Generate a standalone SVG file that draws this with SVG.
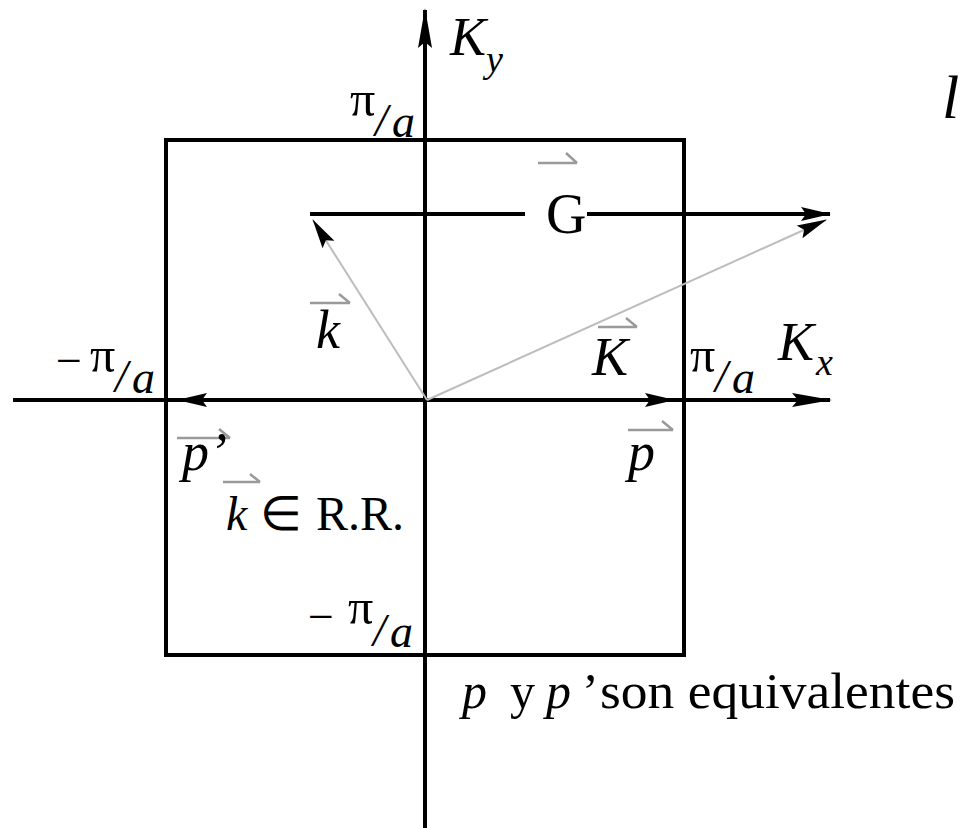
<svg xmlns="http://www.w3.org/2000/svg" width="962" height="828" viewBox="0 0 962 828">
<style>
  .ax { stroke:#000; stroke-width:4; fill:none; }
  .vec { stroke:#000; stroke-width:4; fill:none; }
  .gvec { stroke:#bdbdbd; stroke-width:2; fill:none; }
  .ov { stroke:#9a9a9a; stroke-width:2.5; fill:none; }
  text { font-family:"Liberation Serif","Times New Roman",serif; fill:#000; }
  .it { font-style:italic; }
  .big { font-size:54px; }
  .frac { font-size:46px; font-style:italic; }
  .pi { font-size:50px; font-style:normal; }
</style>
<defs>
  <marker id="axhead" markerUnits="userSpaceOnUse" viewBox="0 0 40 16" refX="38" refY="8" markerWidth="40" markerHeight="16" orient="auto">
    <path d="M0,1 L40,8 L0,15 L6,8 z" fill="#000"/>
  </marker>
  <marker id="head" markerUnits="userSpaceOnUse" viewBox="0 0 30 16" refX="29" refY="8" markerWidth="30" markerHeight="16" orient="auto">
    <path d="M0,1 L30,8 L0,15 L5,8 z" fill="#000"/>
  </marker>
</defs>
<rect width="962" height="828" fill="#fff"/>

<g id="axes">
  <line id="axis-x" class="ax" x1="13" y1="400" x2="830" y2="400" marker-end="url(#axhead)"/>
  <line id="axis-y" class="ax" x1="425" y1="828" x2="425" y2="10" marker-end="url(#axhead)"/>
</g>

<g id="zone">
  <rect x="166" y="140" width="518" height="515" class="ax"/>
</g>

<g id="connectors">
  <line id="vec-p" class="vec" x1="425" y1="400" x2="674" y2="400" marker-end="url(#head)"/>
  <line id="vec-pp" class="vec" x1="425" y1="400" x2="178" y2="400" marker-end="url(#head)"/>
  <line id="vec-k" class="gvec" x1="427" y1="400" x2="313" y2="220" marker-end="url(#head)"/>
  <line id="vec-K" class="gvec" x1="427" y1="400" x2="826" y2="220" marker-end="url(#head)"/>
  <line id="vec-G-a" class="vec" x1="310" y1="214" x2="525" y2="214"/>
  <line id="vec-G-b" class="vec" x1="587" y1="214" x2="830" y2="214" marker-end="url(#head)"/>
</g>

<g id="label-Ky">
  <text x="450" y="55" class="it big">K</text>
  <text x="486" y="72" class="it" font-size="38">y</text>
</g>
<g id="label-Kx">
  <text x="778" y="360" class="it big">K</text>
  <text x="816" y="375" class="it" font-size="38">x</text>
</g>
<g id="label-pi-top">
  <text class="frac"><tspan x="350" y="116" class="pi">π</tspan><tspan x="375" y="136">/</tspan><tspan x="392" y="137">a</tspan></text>
</g>
<g id="label-pi-right">
  <text class="frac"><tspan x="690" y="372" class="pi">π</tspan><tspan x="715" y="392">/</tspan><tspan x="732" y="393">a</tspan></text>
</g>
<g id="label-pi-left">
  <text class="frac"><tspan x="56" y="376" font-style="normal">−</tspan><tspan x="90" y="372" class="pi">π</tspan><tspan x="115" y="392">/</tspan><tspan x="132" y="393">a</tspan></text>
</g>
<g id="label-pi-bottom">
  <text class="frac"><tspan x="308" y="632" font-style="normal">−</tspan><tspan x="348" y="624" class="pi">π</tspan><tspan x="373" y="646">/</tspan><tspan x="390" y="647">a</tspan></text>
</g>
<g id="label-G">
  <path class="ov" d="M538,163 H577 M566,153 L577,163"/>
  <text x="546" y="233" font-size="56">G</text>
</g>
<g id="label-K">
  <path class="ov" d="M598,327 H637 M626,318 L637,327"/>
  <text x="592" y="375" class="it big">K</text>
</g>
<g id="label-k">
  <path class="ov" d="M310,303 H350 M339,294 L350,303"/>
  <text x="316" y="348" class="it big">k</text>
</g>
<g id="label-p">
  <path class="ov" d="M628,430 H673 M662,421 L673,430"/>
  <text x="628" y="470" class="it big">p</text>
</g>
<g id="label-pp">
  <path class="ov" d="M177,438 H230 M219,429 L230,438"/>
  <text x="182" y="470" class="it big">p’</text>
</g>
<g id="label-krr">
  <path class="ov" d="M223,482 H260 M250,474 L260,482"/>
  <text y="530" font-size="48"><tspan x="226" class="it">k</tspan><tspan x="260">∈</tspan><tspan x="316">R.R.</tspan></text>
</g>
<g id="label-equiv">
  <text y="708" font-size="50"><tspan x="462" class="it">p</tspan><tspan x="510">y</tspan><tspan x="546" class="it">p</tspan><tspan x="582">’</tspan><tspan x="600" textLength="355" lengthAdjust="spacingAndGlyphs">son equivalentes</tspan></text>
</g>
<g id="label-l">
  <text x="942" y="118" class="it" font-size="62">l</text>
</g>
</svg>
